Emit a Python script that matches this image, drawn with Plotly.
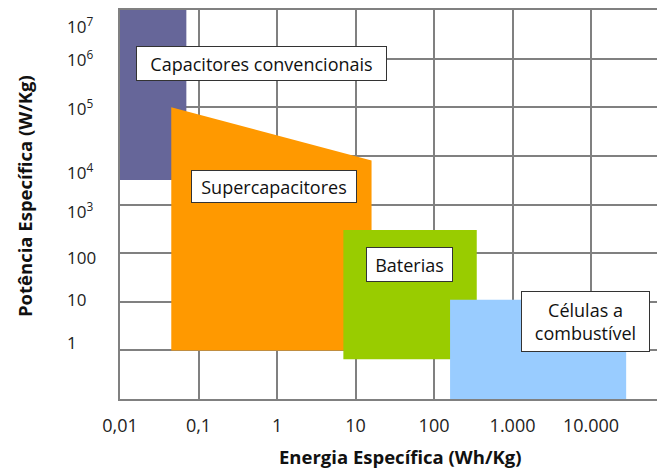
import math
import plotly.graph_objects as go

# ---- data ----
cap_x = [0.01, 0.07, 0.07, 0.01]
cap_y = [1e7, 1e7, 3200, 3200]
super_x = [0.045, 16, 16, 0.045]
super_y = [1e5, 8000, 1, 1]
bat_x = [7, 350, 350, 7]
bat_y = [300, 300, 0.66, 0.66]
cel_x = [160, 28000, 28000, 160]
cel_y = [11, 11, 0.1, 0.1]

x_tickvals = [0.01, 0.1, 1, 10, 100, 1000, 10000]
x_ticktext = ["0,01", "0,1", "1", "10", "100", "1.000", "10.000"]
y_gridvals = [0.1, 1, 10, 100, 1e3, 1e4, 1e5, 1e6, 1e7]
y_tickvals = [1, 10, 100, 1e3, 1e4, 1e5, 1e6, 1e7]
y_ticktext = ["1", "10", "100", "10<sup>3</sup>", "10<sup>4</sup>", "10<sup>5</sup>",
              "10<sup>6</sup>", "10<sup>7</sup>"]

labels = ["Capacitores convencionais", "Supercapacitores", "Baterias", "Células a<br>combustível"]

FONT = "Open Sans"
W, H = 657, 468
L, R, T, B = 120, 0, 10, 69
pw = W - L - R
ph = H - T - B

fig = go.Figure()
for xs, ys, col in [(cap_x, cap_y, "#666699"), (super_x, super_y, "#FF9900"),
                    (bat_x, bat_y, "#99CC00"), (cel_x, cel_y, "#99CCFF")]:
    fig.add_trace(go.Scatter(x=xs, y=ys, fill="toself", fillcolor=col, mode="lines",
                             line=dict(width=0, color=col), hoverinfo="skip", showlegend=False))

def px2paper_x(px):
    return (px - L) / pw

def px2paper_y(py):
    return 1 - (py - T) / ph

anns = []
# label boxes: (text, center px x, center px y, width, height)
for text, cx, cy, bw, bh in [(labels[0], 261, 63, 251, 35), (labels[1], 274, 187, 166, 33),
                             (labels[2], 409, 264, 87, 35), (labels[3], 585, 321, 129, 61)]:
    anns.append(dict(text=text, x=px2paper_x(cx), y=px2paper_y(cy), xref="paper", yref="paper",
                     showarrow=False, xanchor="center", yanchor="middle",
                     width=bw - 2, height=bh - 2, borderpad=0, borderwidth=1,
                     bordercolor="#333333", bgcolor="white",
                     font=dict(family=FONT, size=18, color="#111111")))

# y tick labels (left aligned as in the reference)
shifts = {1e7: -15, 1e4: -16, 1: 8, 10: 2, 100: -4, 1e3: -6}
for v, t in zip(y_tickvals, y_ticktext):
    anns.append(dict(text=t, x=px2paper_x(65), y=math.log10(v), xref="paper", yref="y",
                     showarrow=False, xanchor="left", yanchor="middle", yshift=shifts.get(v, 0),
                     font=dict(family=FONT, size=17, color="#222222")))

anns.append(dict(text="<b>Energia Específica (Wh/Kg)</b>", x=px2paper_x(400), y=px2paper_y(457),
                 xref="paper", yref="paper", showarrow=False, xanchor="center", yanchor="middle",
                 font=dict(family=FONT, size=18.5, color="#111111")))
anns.append(dict(text="<b>Potência Específica (W/Kg)</b>", x=px2paper_x(24), y=px2paper_y(196),
                 xref="paper", yref="paper", showarrow=False, xanchor="center", yanchor="middle",
                 textangle=-90, font=dict(family=FONT, size=18.5, color="#111111")))

fig.update_layout(
    width=W, height=H, margin=dict(l=L, r=R, t=T, b=B, autoexpand=False),
    paper_bgcolor="white", plot_bgcolor="white", showlegend=False,
    annotations=anns,
    xaxis=dict(type="log", range=[-2, 4.84], tickvals=x_tickvals, ticktext=x_ticktext,
               showgrid=True, gridcolor="#808080", gridwidth=1.5, zeroline=False,
               showline=True, linecolor="#808080", linewidth=2, mirror=True,
               ticks="outside", ticklen=9, tickcolor="rgba(0,0,0,0)", automargin=False,
               tickfont=dict(family=FONT, size=18, color="#222222"), fixedrange=True),
    yaxis=dict(type="log", range=[-1, 7], tickvals=y_gridvals, showticklabels=False,
               showgrid=True, gridcolor="#808080", gridwidth=1.5, zeroline=False, automargin=False,
               showline=True, linecolor="#808080", linewidth=2, ticks="", fixedrange=True),
)

fig.write_html("out.html", config={"displayModeBar": False},
               post_script="document.body.style.margin='0';document.body.style.overflow='hidden';")
